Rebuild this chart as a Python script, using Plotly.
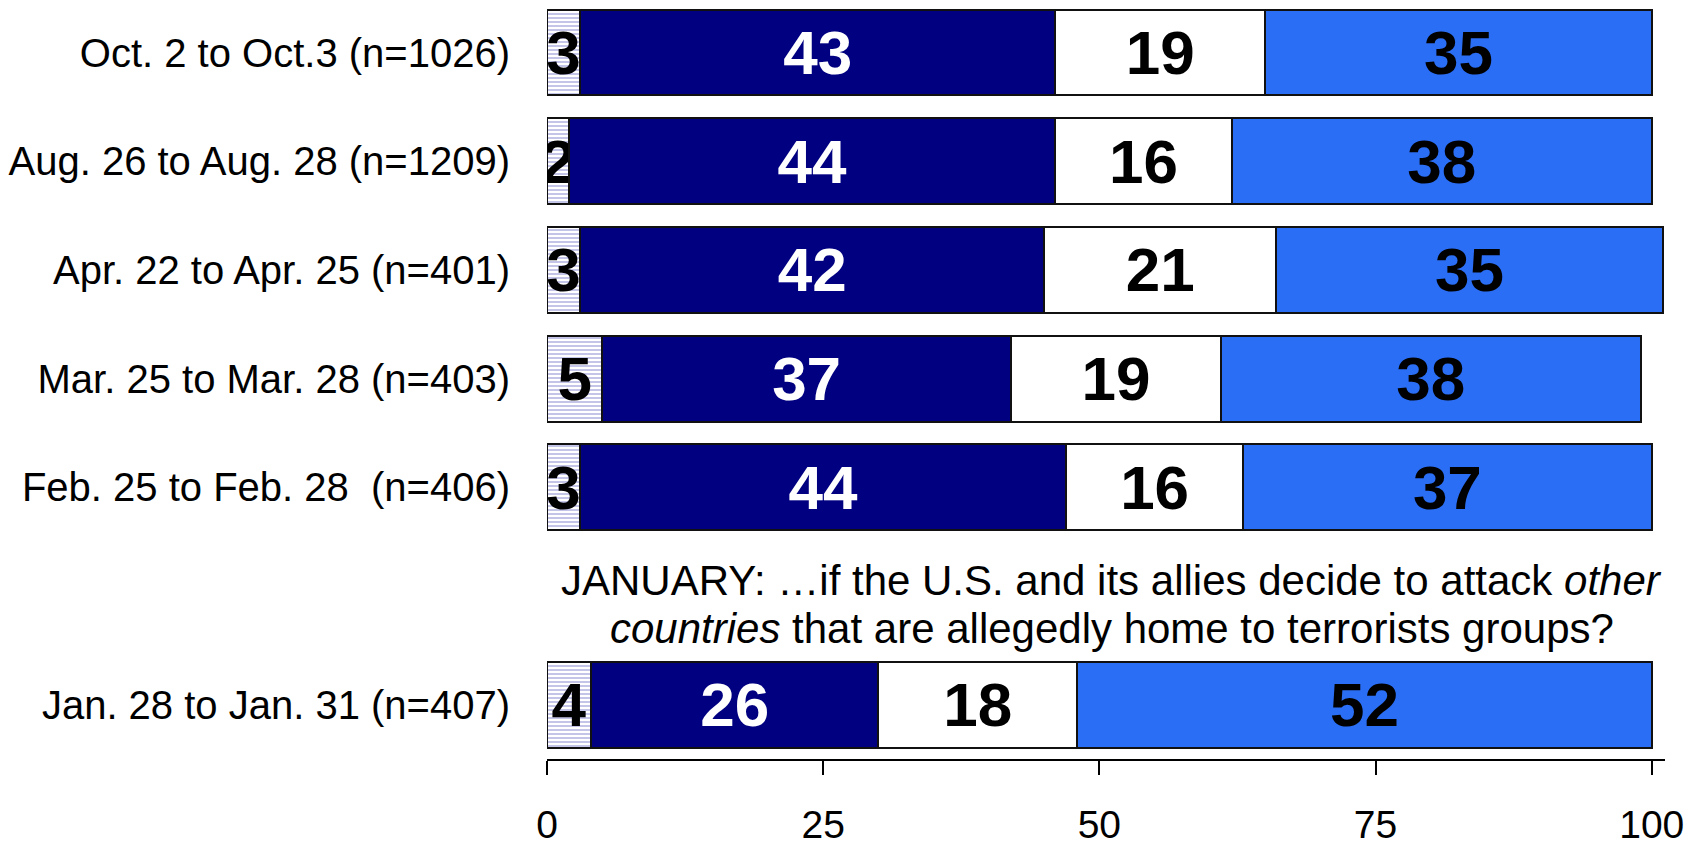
import plotly.graph_objects as go

# ---- data ----
categories = [
    "Oct. 2 to Oct.3 (n=1026)",
    "Aug. 26 to Aug. 28 (n=1209)",
    "Apr. 22 to Apr. 25 (n=401)",
    "Mar. 25 to Mar. 28 (n=403)",
    "Feb. 25 to Feb. 28  (n=406)",
    " ",
    "Jan. 28 to Jan. 31 (n=407)",
]
dont_know = [3, 2, 3, 5, 3, None, 4]
series_2 = [43, 44, 42, 37, 44, None, 26]
series_3 = [19, 16, 21, 19, 16, None, 18]
series_4 = [35, 38, 35, 38, 37, None, 52]
x_ticks = [0, 25, 50, 75, 100]
note_line1 = "JANUARY: …if the U.S. and its allies decide to attack <i>other</i>"
note_line2 = "<i>countries</i> that are allegedly home to terrorists groups?"

FONT = "Arial, Liberation Sans, Helvetica, sans-serif"
LABEL_SIZE = 62


def txt(vals):
    return [None if v is None else str(v) for v in vals]


fig = go.Figure()

specs = [
    ("Don't know", dont_know, "white", "black"),
    ("Series 2", series_2, "#000080", "white"),
    ("Series 3", series_3, "white", "black"),
    ("Series 4", series_4, "#2B6EF6", "black"),
]
for i, (name, vals, color, tcolor) in enumerate(specs):
    marker = dict(color=color, line=dict(color="#111111", width=2))
    if i == 0:
        marker["pattern"] = dict(shape="-", fgcolor="#6a6ac8", bgcolor="white",
                                 size=4, solidity=0.4, fillmode="overlay")
    fig.add_trace(go.Bar(
        name=name,
        y=categories,
        x=vals,
        orientation="h",
        marker=marker,
        text=txt(vals),
        textposition="inside",
        insidetextanchor="middle",
        constraintext="none",
        textangle=0,
        textfont=dict(family=FONT, size=LABEL_SIZE, color=tcolor, weight="bold"),
        hoverinfo="x+y+name",
    ))

fig.add_annotation(text=note_line1, x=0.505, xref="paper", y=4.86, yref="y",
                   showarrow=False, xanchor="center", yanchor="middle",
                   font=dict(family=FONT, size=42, color="black"))
fig.add_annotation(text=note_line2, x=0.505, xref="paper", y=5.30, yref="y",
                   showarrow=False, xanchor="center", yanchor="middle",
                   font=dict(family=FONT, size=42, color="black"))

# the page body adds an 8px offset, so the figure is 8px smaller each way
fig.update_layout(
    width=1684, height=838,
    barmode="stack",
    bargap=0.21,
    showlegend=False,
    plot_bgcolor="white",
    paper_bgcolor="white",
    margin=dict(l=539, r=27, t=0, b=87, autoexpand=False),
    font=dict(family=FONT, color="black"),
    xaxis=dict(
        range=[0, 101.2],
        tickvals=x_ticks,
        ticktext=[str(t) for t in x_ticks],
        ticks="outside", ticklen=14, tickwidth=2, tickcolor="black",
        showline=True, linecolor="black", linewidth=2,
        showgrid=False, zeroline=False,
        tickfont=dict(family=FONT, size=39, color="black"),
        ticklabelstandoff=16,
        automargin=False,
    ),
    yaxis=dict(
        type="category",
        categoryorder="array",
        categoryarray=categories,
        range=[6.5, -0.41],
        showgrid=False, zeroline=False, showline=False,
        ticks="",
        tickfont=dict(family=FONT, size=40, color="black"),
        ticklabelstandoff=36,
        automargin=False,
    ),
)

fig.write_html("out.html")
